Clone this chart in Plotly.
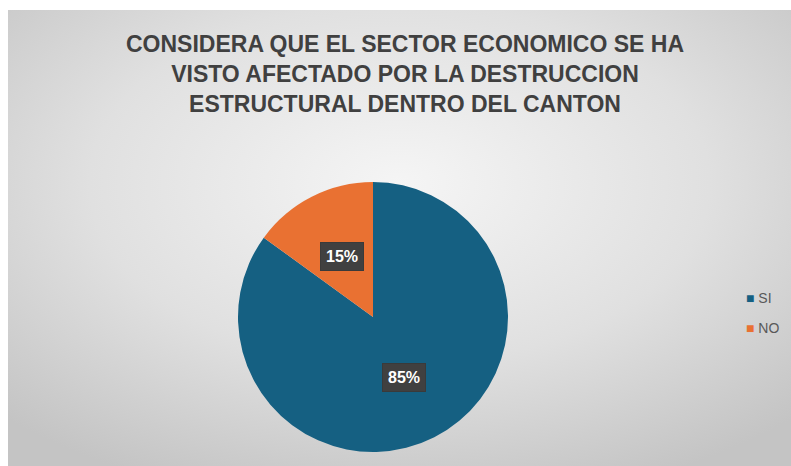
import math
import base64
import plotly.graph_objects as go

# ---- data ----
labels = ["SI", "NO"]
values = [85, 15]
pct_text = ["85%", "15%"]
colors = ["#156082", "#E97132"]
title_lines = [
    "CONSIDERA QUE EL SECTOR ECONOMICO SE HA",
    "VISTO AFECTADO POR LA DESTRUCCION",
    "ESTRUCTURAL DENTRO DEL CANTON",
]

W, H = 791, 466
FONT = "'Liberation Sans', Arial, sans-serif"

# pie domain (paper fractions)
dom_x = [238 / W, 508 / W]
dom_y = [14 / H, 284 / H]

# radial gradient background as SVG data URI
svg = (
    '<svg xmlns="http://www.w3.org/2000/svg" width="783" height="456" preserveAspectRatio="none">'
    '<defs><radialGradient id="g" cx="50%" cy="38%" r="72%">'
    '<stop offset="0%" stop-color="#f5f5f5"/>'
    '<stop offset="55%" stop-color="#e0e0e0"/>'
    '<stop offset="100%" stop-color="#c4c4c4"/>'
    '</radialGradient></defs>'
    '<rect width="783" height="456" fill="url(#g)"/></svg>'
)
svg_uri = "data:image/svg+xml;base64," + base64.b64encode(svg.encode()).decode()

fig = go.Figure()
fig.add_trace(go.Pie(
    labels=labels,
    values=values,
    sort=False,
    direction="clockwise",
    rotation=0,
    marker=dict(colors=colors, line=dict(width=0)),
    textinfo="none",
    hoverinfo="label+percent",
    domain=dict(x=dom_x, y=dom_y),
    showlegend=False,
))

# label boxes placed along each slice's mid-angle
cx_px = (dom_x[0] + dom_x[1]) / 2 * W
cy_px = (dom_y[0] + dom_y[1]) / 2 * H
radius_px = min((dom_x[1] - dom_x[0]) * W, (dom_y[1] - dom_y[0]) * H) / 2
total = sum(values)
cum = 0
annotations = []
for v, t in zip(values, pct_text):
    mid = (cum + v / 2) / total * 2 * math.pi
    cum += v
    rr = 0.50 * radius_px
    px = cx_px + rr * math.sin(mid)
    py = cy_px + rr * math.cos(mid)
    annotations.append(dict(
        x=px / W, y=py / H, xref="paper", yref="paper",
        text="<b>%s</b>" % t, showarrow=False,
        font=dict(family=FONT, size=16, color="white"),
        bgcolor="#404040", borderpad=5, bordercolor="#3a3a3a", borderwidth=1,
        xanchor="center", yanchor="middle",
    ))

# legend entries (square + label), stacked at the right
for i, (lab, col) in enumerate(zip(labels, colors)):
    annotations.append(dict(
        x=744 / W, y=1 - (298 + 30 * i) / H, xref="paper", yref="paper",
        text="<span style='color:%s;font-size:14px'>■</span> %s" % (col, lab),
        showarrow=False, xanchor="left", yanchor="middle",
        font=dict(family=FONT, size=14, color="#595959"),
    ))

fig.update_layout(
    width=W, height=H, autosize=False,
    margin=dict(l=0, r=0, t=0, b=0),
    paper_bgcolor="white",
    plot_bgcolor="rgba(0,0,0,0)",
    showlegend=False,
    title=dict(
        text="<b>" + "<br>".join(title_lines) + "</b>",
        x=405 / W, xanchor="center",
        y=1 - 52 / H, yanchor="top",
        font=dict(family=FONT, size=23, color="#404040"),
    ),
    annotations=annotations,
    images=[dict(
        source=svg_uri, xref="paper", yref="paper",
        x=8 / W, y=1 - 10 / H, sizex=(W - 8) / W, sizey=(H - 10) / H,
        xanchor="left", yanchor="top", sizing="stretch", layer="below",
    )],
)

fig.write_html(
    "out.html",
    config={"displayModeBar": False},
    post_script="document.body.style.margin='0';document.documentElement.style.overflow='hidden';",
)
